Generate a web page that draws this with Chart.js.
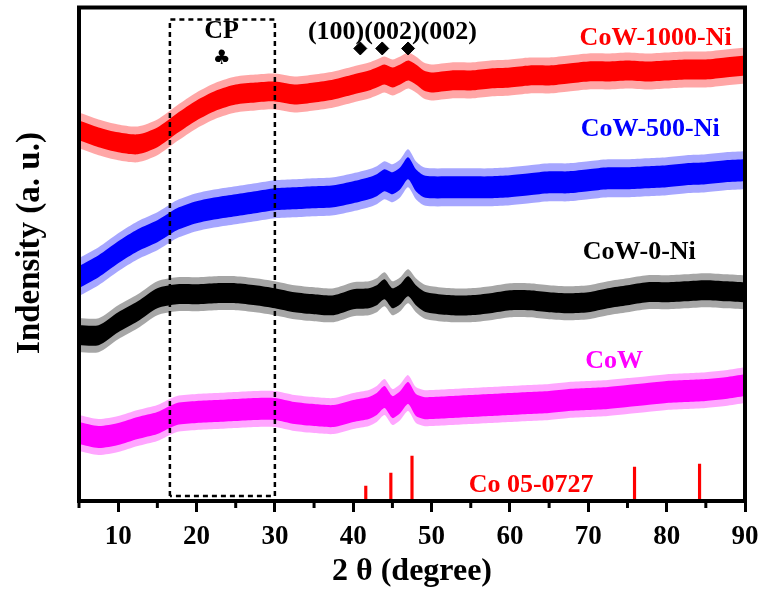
<!DOCTYPE html>
<html>
<head>
<meta charset="utf-8">
<script src="https://cdn.jsdelivr.net/npm/chart.js@4.4.0/dist/chart.umd.min.js"></script>
<style>
  html, body { margin: 0; padding: 0; background: #fff; }
  #wrap { width: 765px; height: 597px; }
</style>
</head>
<body>
<div id="wrap"><canvas id="xrd" width="765" height="597"></canvas></div>
<script>
// 2θ sample positions (degree), denser around the 44-47° reflections
const twoTheta = [5, 7.5, 10, 12.5, 15, 17.5, 20, 22.5, 25, 27.5, 30, 32.5, 35, 37.5, 40,
  42, 43, 44, 45, 46, 47, 48, 49, 50,
  52.5, 55, 57.5, 60, 62.5, 65, 67.5, 70, 72.5, 75, 77.5, 80, 82.5, 85, 87.5, 90];

// mean intensity of each (noisy) pattern, offset stacked, a.u.
const cowNi1000 = [371, 364, 359, 357, 364, 378, 391, 401, 407, 409, 410, 407, 409, 412, 417,
  421, 424, 427, 424, 427, 431, 427, 421, 419,
  421, 421, 423, 424, 426, 426, 428, 430, 430, 431, 430, 431, 432, 432, 434, 436];
const cowNi500 = [224, 235, 249, 261, 270, 282, 289, 293, 296, 299, 302, 303, 304, 305, 309,
  313, 316, 321, 318, 323, 333, 321, 315, 314,
  314, 314, 314, 315, 317, 319, 319, 321, 323, 323, 324, 325, 327, 328, 330, 331];
const cowNi0 = [166, 166, 179, 190, 203, 207, 207, 208, 208, 206, 203, 199, 197, 196, 202,
  203, 206, 212, 203, 207, 215, 206, 200, 198,
  196, 196, 198, 201, 201, 199, 198, 199, 203, 206, 209, 209, 210, 211, 210, 209];
const cow = [68, 64, 67, 73, 78, 87, 89, 90, 91, 92, 92, 88, 86, 85, 90,
  93, 97, 104, 94, 99, 108, 96, 93, 93,
  94, 95, 96, 97, 98, 99, 101, 102, 103, 105, 107, 109, 110, 111, 113, 116];

// half width of the dense noise and of the spikes around each mean
const noiseCore = [10, 11, 10, 11];
const noiseSpike = [18, 19, 17, 18];

// reference card Co 05-0727
const coRefPos = [41.6, 44.8, 47.5, 75.9, 84.2];
const coRefInt = [15, 28, 45, 34, 37];

// marked reflections (100)(002)(002)
const peakMarks = [40.9, 43.7, 47.0];

// amorphous CP region
const cpRange = [16.6, 30];

const seriesLabels = ['CoW-1000-Ni', 'CoW-500-Ni', 'CoW-0-Ni', 'CoW'];
const seriesData = [cowNi1000, cowNi500, cowNi0, cow];
const seriesColors = ['#ff0000', '#0000ff', '#000000', '#ff00ff'];
const seriesFaint = ['rgba(255,0,0,0.35)', 'rgba(0,0,255,0.35)', 'rgba(0,0,0,0.35)', 'rgba(255,0,255,0.35)'];

const toPts = (arr, d) => twoTheta.map((x, i) => ({ x, y: arr[i] + d }));

const datasets = [];

// dashed box on top of everything
datasets.push({
  type: 'line',
  data: [
    { x: cpRange[0], y: 5 }, { x: cpRange[0], y: 482 },
    { x: cpRange[1], y: 482 }, { x: cpRange[1], y: 5 }, { x: cpRange[0], y: 5 }
  ],
  borderColor: '#000',
  borderWidth: 2.5,
  borderDash: [5, 4],
  pointRadius: 0,
  fill: false,
  order: 0
});

datasets.push({
  type: 'scatter',
  data: peakMarks.map(x => ({ x, y: 453 })),
  pointStyle: 'rectRot',
  pointRadius: 6.5,
  backgroundColor: '#000',
  borderColor: '#000',
  order: 0
});

datasets.push({
  type: 'bar',
  data: coRefPos.map((x, i) => ({ x, y: coRefInt[i] })),
  backgroundColor: '#ff0000',
  barThickness: 2.5,
  order: 1
});

seriesData.forEach((arr, s) => {
  const base = { type: 'line', pointRadius: 0, tension: 0.25, borderWidth: 0, order: 2 + s };
  datasets.push({ ...base, data: toPts(arr, noiseSpike[s]), fill: false });
  datasets.push({ ...base, data: toPts(arr, -noiseSpike[s]), fill: '-1', backgroundColor: seriesFaint[s] });
  datasets.push({ ...base, data: toPts(arr, noiseCore[s]), fill: false });
  datasets.push({ ...base, data: toPts(arr, -noiseCore[s]), fill: '-1', backgroundColor: seriesColors[s] });
});

// text placed in data coordinates
const notes = [
  { text: 'CoW-1000-Ni', x: 78.6, y: 463, color: '#ff0000' },
  { text: 'CoW-500-Ni', x: 77.9, y: 372, color: '#0000ff' },
  { text: 'CoW-0-Ni', x: 76.5, y: 249, color: '#000000' },
  { text: 'CoW', x: 73.3, y: 140, color: '#ff00ff' },
  { text: 'Co 05-0727', x: 62.7, y: 16, color: '#ff0000' },
  { text: 'CP', x: 23.2, y: 470, color: '#000000' },
  { text: '(100)(002)(002)', x: 45.0, y: 469, color: '#000000' }
];

const serif = '"Liberation Serif", "Times New Roman", serif';

const decor = {
  id: 'decor',
  beforeDraw(chart) {
    const { ctx } = chart;
    ctx.save();
    ctx.fillStyle = '#fff';
    ctx.fillRect(0, 0, chart.width, chart.height);
    ctx.restore();
  },
  afterDraw(chart) {
    const { ctx, chartArea: a, scales } = chart;
    const sx = scales.x, sy = scales.y;
    ctx.save();
    // minor ticks
    ctx.strokeStyle = '#000';
    ctx.lineWidth = 3;
    sx.ticks.forEach(t => {
      if (t.value % 10 !== 0) {
        const px = sx.getPixelForValue(t.value);
        ctx.beginPath();
        ctx.moveTo(px, a.bottom);
        ctx.lineTo(px, a.bottom + 7);
        ctx.stroke();
      }
    });
    // frame
    ctx.lineWidth = 4;
    ctx.strokeRect(a.left, a.top, a.right - a.left, a.bottom - a.top);
    // labels
    ctx.textAlign = 'center';
    ctx.textBaseline = 'middle';
    notes.forEach(n => {
      ctx.font = 'bold 26px ' + serif;
      ctx.fillStyle = n.color;
      ctx.fillText(n.text, sx.getPixelForValue(n.x), sy.getPixelForValue(n.y));
    });
    ctx.font = '20px "DejaVu Sans"';
    ctx.fillStyle = '#000';
    ctx.fillText('\u2663', sx.getPixelForValue(23.2), sy.getPixelForValue(443));
    // y axis title, sits a little above the middle of the axis
    ctx.translate(30, 243);
    ctx.rotate(-Math.PI / 2);
    ctx.font = 'bold 33px ' + serif;
    ctx.fillText('Indensity (a. u.)', 0, 0);
    ctx.restore();
  }
};

new Chart(document.getElementById('xrd'), {
  data: { datasets },
  options: {
    responsive: false,
    animation: false,
    devicePixelRatio: 1,
    layout: { padding: { left: 0, top: 7, right: 0, bottom: 0 } },
    plugins: { legend: { display: false }, tooltip: { enabled: false } },
    scales: {
      x: {
        type: 'linear',
        min: 5,
        max: 90,
        offset: false,
        afterFit: s => { s.height = 96; s.paddingLeft = 0; s.paddingRight = 20; },
        border: { display: false },
        grid: {
          offset: false,
          drawOnChartArea: false,
          tickLength: 11,
          tickWidth: 3,
          tickColor: c => (c.tick && c.tick.value % 10 === 0 ? '#000' : 'rgba(0,0,0,0)')
        },
        ticks: {
          stepSize: 5,
          autoSkip: false,
          maxRotation: 0,
          padding: 9,
          color: '#000',
          font: { family: serif, size: 27, weight: 'bold' },
          callback: v => (v % 10 === 0 ? String(v) : '')
        },
        title: {
          display: true,
          text: '2 \u03b8 (degree)',
          color: '#000',
          font: { family: serif, size: 32, weight: 'bold' },
          padding: { top: 0, bottom: 6 }
        }
      },
      y: {
        type: 'linear',
        min: 0,
        max: 494,
        afterFit: s => { s.width = 79; },
        border: { display: false },
        grid: { display: false },
        ticks: { display: false },
        title: { display: false }
      }
    }
  },
  plugins: [decor]
});
</script>
</body>
</html>
